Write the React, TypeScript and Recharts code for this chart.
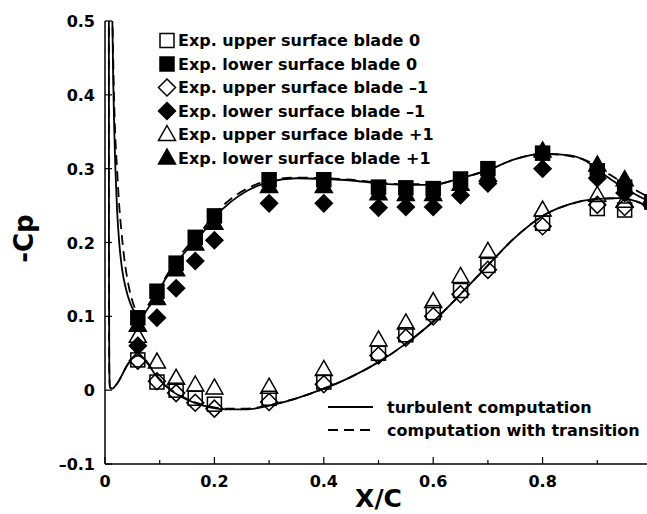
import { ComposedChart, Line, Scatter, XAxis, YAxis } from "recharts";

// experimental stations (x/c)
const xExp = [0.06, 0.095, 0.13, 0.165, 0.2, 0.3, 0.4, 0.5, 0.55, 0.6, 0.65, 0.7, 0.8, 0.9, 0.95, 1.0];

const upperBlade0 = [0.041, 0.011, 0.0, -0.011, -0.019, -0.011, 0.011, 0.05, 0.075, 0.105, 0.135, 0.169, 0.226, 0.246, 0.244, 0.255];
const lowerBlade0 = [0.098, 0.134, 0.172, 0.207, 0.236, 0.285, 0.285, 0.275, 0.274, 0.273, 0.286, 0.3, 0.321, 0.297, 0.275, 0.255];
const upperBladeM1 = [0.04, 0.012, -0.004, -0.017, -0.025, -0.016, 0.008, 0.047, 0.071, 0.1, 0.13, 0.163, 0.222, 0.251, 0.248, 0.25];
const lowerBladeM1 = [0.06, 0.098, 0.138, 0.175, 0.203, 0.253, 0.253, 0.247, 0.248, 0.248, 0.264, 0.28, 0.3, 0.287, 0.267, 0.25];
const upperBladeP1 = [0.073, 0.038, 0.016, 0.007, 0.003, 0.004, 0.028, 0.068, 0.091, 0.12, 0.154, 0.188, 0.244, 0.264, 0.256, 0.26];
const lowerBladeP1 = [0.088, 0.124, 0.163, 0.198, 0.226, 0.276, 0.276, 0.266, 0.265, 0.265, 0.279, 0.291, 0.324, 0.305, 0.285, 0.262];

// computed curves
const turbUpperX = [0.007, 0.0072, 0.0078, 0.009, 0.013, 0.018, 0.024, 0.03, 0.04, 0.05, 0.06, 0.07, 0.08, 0.09, 0.1, 0.12, 0.15, 0.18, 0.22, 0.26, 0.3, 0.35, 0.4, 0.45, 0.5, 0.55, 0.6, 0.65, 0.7, 0.75, 0.8, 0.85, 0.9, 0.94, 0.97, 1.0];
const turbUpperY = [0.6, 0.2, 0.03, 0.004, 0.002, 0.005, 0.011, 0.019, 0.033, 0.043, 0.047, 0.043, 0.034, 0.023, 0.014, 0.0, -0.013, -0.021, -0.026, -0.026, -0.021, -0.011, 0.002, 0.018, 0.038, 0.063, 0.093, 0.13, 0.169, 0.207, 0.236, 0.252, 0.259, 0.26, 0.256, 0.246];
const turbLowerX = [0.012, 0.0135, 0.015, 0.017, 0.019, 0.022, 0.026, 0.031, 0.038, 0.046, 0.055, 0.063, 0.072, 0.082, 0.095, 0.11, 0.13, 0.15, 0.175, 0.2, 0.23, 0.26, 0.3, 0.35, 0.4, 0.45, 0.5, 0.55, 0.6, 0.65, 0.7, 0.75, 0.8, 0.85, 0.88, 0.91, 0.94, 0.97, 1.0];
const turbLowerY = [0.6, 0.5, 0.42, 0.35, 0.3, 0.245, 0.2, 0.165, 0.138, 0.118, 0.105, 0.1, 0.104, 0.115, 0.131, 0.15, 0.172, 0.19, 0.21, 0.234, 0.255, 0.27, 0.282, 0.287, 0.286, 0.284, 0.28, 0.278, 0.278, 0.287, 0.298, 0.313, 0.32, 0.318, 0.31, 0.293, 0.278, 0.265, 0.254];
const transUpperY = [0.6, 0.2, 0.03, 0.004, 0.002, 0.005, 0.011, 0.019, 0.033, 0.043, 0.047, 0.044, 0.035, 0.024, 0.015, 0.001, -0.012, -0.02, -0.025, -0.025, -0.02, -0.011, 0.002, 0.018, 0.038, 0.063, 0.093, 0.13, 0.169, 0.207, 0.236, 0.252, 0.259, 0.26, 0.256, 0.246];
const transLowerX = [0.012, 0.0138, 0.0158, 0.0185, 0.022, 0.026, 0.03, 0.035, 0.041, 0.048, 0.056, 0.063, 0.072, 0.082, 0.095, 0.11, 0.13, 0.15, 0.175, 0.2, 0.23, 0.26, 0.3, 0.35, 0.4, 0.45, 0.5, 0.55, 0.6, 0.65, 0.7, 0.75, 0.8, 0.85, 0.88, 0.91, 0.94, 0.97, 1.0];
const transLowerY = [0.6, 0.5, 0.42, 0.35, 0.3, 0.25, 0.215, 0.18, 0.15, 0.126, 0.109, 0.102, 0.104, 0.115, 0.132, 0.152, 0.175, 0.194, 0.214, 0.238, 0.259, 0.273, 0.284, 0.288, 0.287, 0.285, 0.281, 0.279, 0.279, 0.287, 0.298, 0.313, 0.32, 0.317, 0.311, 0.298, 0.284, 0.271, 0.259];

const xMajorTicks = [0, 0.2, 0.4, 0.6, 0.8];
const xAllTicks = [0, 0.1, 0.2, 0.3, 0.4, 0.5, 0.6, 0.7, 0.8, 0.9];
const yTicks = [-0.1, 0, 0.1, 0.2, 0.3, 0.4, 0.5];

const legendLabels = [
  "Exp. upper surface blade 0",
  "Exp. lower surface blade 0",
  "Exp. upper surface blade \u20131",
  "Exp. lower surface blade \u20131",
  "Exp. upper surface blade +1",
  "Exp. lower surface blade +1",
];
const lineLegendLabels = ["turbulent computation", "computation with transition"];

const pts = (xs: number[], ys: number[]) => xs.map((x, i) => ({ x, y: ys[i] }));

const font = "'DejaVu Sans', sans-serif";
const tickStyle = { fontFamily: font, fontWeight: 700, fontSize: 16, fill: "#000" };
const fmt = (v: number) => (v === 0 ? "0" : v.toFixed(1).replace("-", "\u2013"));

type Kind = "square" | "diamond" | "triangle";

function Marker({ cx, cy, kind, filled }: { cx: number; cy: number; kind: Kind; filled: boolean }) {
  const fill = filled ? "#000" : "none";
  const common = { fill, stroke: "#000", strokeWidth: 1.5 };
  if (kind === "square") return <rect x={cx - 7} y={cy - 7} width={14} height={14} {...common} />;
  if (kind === "diamond")
    return <polygon points={`${cx},${cy - 8.5} ${cx + 8.5},${cy} ${cx},${cy + 8.5} ${cx - 8.5},${cy}`} {...common} />;
  return <polygon points={`${cx},${cy - 9} ${cx + 8.5},${cy + 6} ${cx - 8.5},${cy + 6}`} {...common} />;
}

const markerKinds: Kind[] = ["square", "square", "diamond", "diamond", "triangle", "triangle"];
const markerFilled = [false, true, false, true, false, true];

function XTick(props: any) {
  const { x, y, payload, top } = props;
  const major = xMajorTicks.includes(payload.value);
  const len = major ? 7 : 4;
  return (
    <g>
      <line x1={x} x2={x} y1={y} y2={top ? y + len : y - len} stroke="#000" strokeWidth={1.2} />
      {!top && major && (
        <text x={x} y={y + 23} textAnchor="middle" style={tickStyle}>
          {fmt(payload.value)}
        </text>
      )}
    </g>
  );
}

function YTick(props: any) {
  const { x, y, payload, right } = props;
  return (
    <g>
      <line x1={x} x2={right ? x - 7 : x + 7} y1={y} y2={y} stroke="#000" strokeWidth={1.2} />
      {!right && (
        <text x={x - 10} y={y + 6} textAnchor="end" style={tickStyle}>
          {fmt(payload.value)}
        </text>
      )}
    </g>
  );
}

const XLabel = (props: any) => {
  const vb = props.viewBox || { x: 105, y: 464, width: 547, height: 50 };
  return (
    <text x={vb.x + vb.width / 2} y={vb.y + 43} textAnchor="middle" style={{ ...tickStyle, fontSize: 25 }}>
      X/C
    </text>
  );
};

const YLabel = (props: any) => {
  const vb = props.viewBox || { x: 0, y: 21, width: 105, height: 443 };
  const cx = vb.x + 33;
  const cy = vb.y + vb.height / 2 - 4;
  return (
    <text x={cx} y={cy} textAnchor="middle" transform={`rotate(-90, ${cx}, ${cy})`} style={{ ...tickStyle, fontSize: 26 }}>
      -Cp
    </text>
  );
};

export default function App() {
  const expSeries = [upperBladeP1, upperBlade0, upperBladeM1, lowerBladeP1, lowerBladeM1, lowerBlade0];
  const expIndex = [4, 0, 2, 5, 3, 1];
  const axisLine = { stroke: "#000", strokeWidth: 1.5 };
  return (
    <div style={{ position: "absolute", left: 0, top: 0, width: 647, height: 514, overflow: "hidden", background: "#fff" }}>
      <ComposedChart width={680} height={514} margin={{ top: 21, right: 28, bottom: 0, left: 0 }}>
        <XAxis
          xAxisId={0}
          dataKey="x"
          type="number"
          domain={[0, 1]}
          allowDataOverflow
          ticks={xAllTicks}
          interval={0}
          tickSize={0}
          tickMargin={0}
          tickLine={false}
          axisLine={axisLine}
          height={50}
          tick={<XTick />}
          label={<XLabel />}
        />
        <XAxis
          xAxisId="top"
          orientation="top"
          dataKey="x"
          type="number"
          domain={[0, 1]}
          allowDataOverflow
          ticks={xAllTicks}
          interval={0}
          tickSize={0}
          tickMargin={0}
          tickLine={false}
          axisLine={axisLine}
          height={0}
          tick={<XTick top />}
        />
        <YAxis
          yAxisId={0}
          dataKey="y"
          type="number"
          domain={[-0.1, 0.5]}
          allowDataOverflow
          ticks={yTicks}
          interval={0}
          tickSize={0}
          tickMargin={0}
          tickLine={false}
          axisLine={axisLine}
          width={105}
          tick={<YTick />}
          label={<YLabel />}
        />
        <YAxis
          yAxisId="right"
          orientation="right"
          dataKey="y"
          type="number"
          domain={[-0.1, 0.5]}
          allowDataOverflow
          ticks={yTicks}
          interval={0}
          tickSize={0}
          tickMargin={0}
          tickLine={false}
          axisLine={axisLine}
          width={0}
          tick={<YTick right />}
        />
        <Line data={pts(turbUpperX, turbUpperY)} dataKey="y" type="monotone" stroke="#000" strokeWidth={1.8} dot={false} isAnimationActive={false} />
        <Line data={pts(turbLowerX, turbLowerY)} dataKey="y" type="monotone" stroke="#000" strokeWidth={1.8} dot={false} isAnimationActive={false} />
        <Line data={pts(turbUpperX, transUpperY)} dataKey="y" type="monotone" stroke="#000" strokeWidth={1.8} strokeDasharray="10 6" dot={false} isAnimationActive={false} />
        <Line data={pts(transLowerX, transLowerY)} dataKey="y" type="monotone" stroke="#000" strokeWidth={1.8} strokeDasharray="10 6" dot={false} isAnimationActive={false} />
        {expSeries.map((ys, i) => {
          const k = expIndex[i];
          return (
            <Scatter
              key={k}
              data={pts(xExp, ys)}
              isAnimationActive={false}
              shape={(p: any) => <Marker cx={p.cx} cy={p.cy} kind={markerKinds[k]} filled={markerFilled[k]} />}
            />
          );
        })}
      </ComposedChart>
      <svg width={647} height={514} style={{ position: "absolute", left: 0, top: 0, pointerEvents: "none" }}>
        {legendLabels.map((label, i) => {
          const cy = 40.5 + i * 23.5;
          return (
            <g key={label}>
              <Marker cx={167} cy={cy} kind={markerKinds[i]} filled={markerFilled[i]} />
              <text x={178} y={cy + 5.5} style={tickStyle}>
                {label}
              </text>
            </g>
          );
        })}
        {lineLegendLabels.map((label, i) => {
          const cy = 407 + i * 23;
          return (
            <g key={label}>
              <line x1={328} x2={373} y1={cy} y2={cy} stroke="#000" strokeWidth={1.8} strokeDasharray={i === 1 ? "10 6" : undefined} />
              <text x={387} y={cy + 6} style={tickStyle}>
                {label}
              </text>
            </g>
          );
        })}
      </svg>
    </div>
  );
}
